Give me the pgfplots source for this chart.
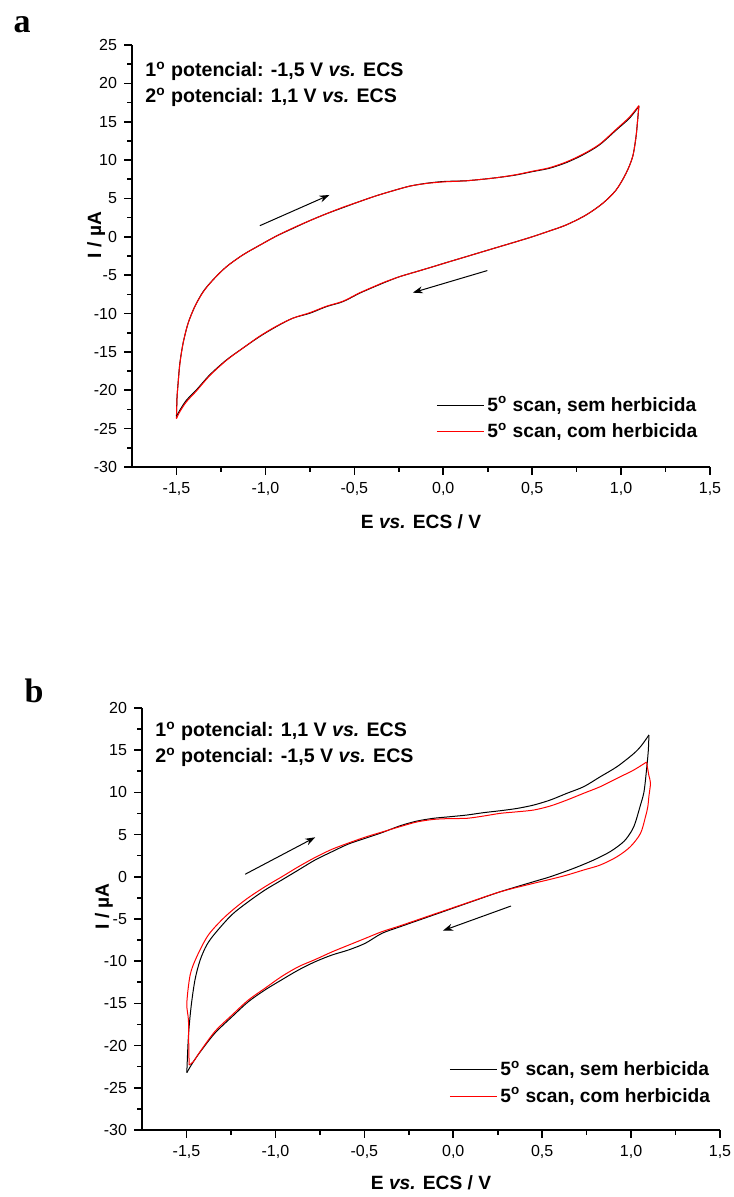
\documentclass[border=0pt]{standalone}
\usepackage{pgfplots}
\pgfplotsset{compat=1.18}
\usepackage{fontspec}
\setmainfont{Liberation Sans}
\newfontfamily\serifbold{Liberation Serif}
\usetikzlibrary{arrows.meta}

% ---------- data (E / V, I / uA) ----------
% panel a, black: anodic (upper) and cathodic (lower) branches
\pgfplotstableread{
E I
-1.500 -23.4
-1.497 -21.0
-1.491 -19.1
-1.481 -16.5
-1.463 -13.9
-1.435 -11.3
-1.397 -9.1
-1.350 -7.15
-1.294 -5.6
-1.219 -3.9
-1.126 -2.35
-1.032 -1.1
-0.938 0.1
-0.845 1.1
-0.751 2.1
-0.657 3.0
-0.564 3.8
-0.470 4.6
-0.376 5.35
-0.283 6.0
-0.189 6.6
-0.096 6.97
-0.002 7.2
0.092 7.27
0.129 7.3
0.222 7.5
0.316 7.75
0.410 8.06
0.503 8.5
0.597 8.93
0.691 9.66
0.784 10.66
0.878 11.97
0.972 13.9
1.047 15.45
1.100 17.0
}\dataAblackU
\pgfplotstableread{
E I
1.100 17.0
1.093 15.2
1.084 13.05
1.065 10.44
1.028 8.28
0.972 6.1
0.897 4.37
0.803 2.84
0.691 1.54
0.597 0.76
0.503 0.02
0.410 -0.64
0.316 -1.29
0.222 -1.94
0.129 -2.59
0.035 -3.24
-0.058 -3.9
-0.152 -4.55
-0.246 -5.2
-0.330 -5.95
-0.376 -6.4
-0.470 -7.35
-0.564 -8.45
-0.657 -9.1
-0.751 -9.97
-0.845 -10.6
-0.938 -11.7
-1.032 -13.0
-1.126 -14.5
-1.219 -16.05
-1.313 -18.0
-1.388 -19.96
-1.444 -21.3
-1.481 -22.6
-1.500 -23.4
}\dataAblackL

% panel a, red
\pgfplotstableread{
E I
-1.500 -23.7
-1.497 -21.1
-1.491 -19.2
-1.481 -16.6
-1.463 -13.9
-1.435 -11.3
-1.397 -9.1
-1.350 -7.2
-1.294 -5.6
-1.219 -3.9
-1.126 -2.35
-1.032 -1.1
-0.938 0.1
-0.845 1.15
-0.751 2.1
-0.657 3.0
-0.564 3.85
-0.470 4.6
-0.376 5.35
-0.283 6.0
-0.189 6.6
-0.096 6.95
-0.002 7.15
0.092 7.25
0.129 7.3
0.222 7.5
0.316 7.75
0.410 8.1
0.503 8.55
0.597 9.0
0.691 9.75
0.784 10.75
0.878 12.05
0.972 14.0
1.047 15.6
1.100 17.1
}\dataAredU
\pgfplotstableread{
E I
1.100 17.1
1.093 15.2
1.084 13.05
1.065 10.44
1.028 8.28
0.972 6.1
0.897 4.37
0.803 2.84
0.691 1.54
0.597 0.76
0.503 0.02
0.410 -0.64
0.316 -1.29
0.222 -1.94
0.129 -2.59
0.035 -3.24
-0.058 -3.9
-0.152 -4.55
-0.246 -5.2
-0.330 -5.9
-0.376 -6.35
-0.470 -7.3
-0.564 -8.4
-0.657 -9.05
-0.751 -9.9
-0.845 -10.6
-0.938 -11.65
-1.032 -12.95
-1.126 -14.5
-1.219 -16.1
-1.313 -18.1
-1.388 -20.1
-1.444 -21.5
-1.481 -22.8
-1.500 -23.7
}\dataAredL

% panel b, black
\pgfplotstableread{
E I
1.100 16.8
1.097 15.0
1.085 12.3
1.072 10.0
1.050 8.3
1.025 6.5
1.005 5.5
0.960 4.2
0.884 3.0
0.790 1.99
0.677 1.0
0.546 0.01
0.452 -0.58
0.265 -1.77
0.077 -3.14
-0.111 -4.53
-0.298 -5.91
-0.401 -6.7
-0.495 -7.88
-0.589 -8.67
-0.682 -9.27
-0.776 -10.06
-0.870 -11.04
-0.964 -12.2
-1.058 -13.4
-1.152 -14.8
-1.245 -16.6
-1.339 -18.5
-1.414 -20.5
-1.461 -21.9
-1.498 -23.2
}\dataBblackL
\pgfplotstableread{
E I
-1.498 -23.2
-1.489 -18.9
-1.474 -15.4
-1.452 -12.2
-1.423 -9.86
-1.386 -8.08
-1.339 -6.7
-1.245 -4.5
-1.152 -2.95
-1.058 -1.56
-0.964 -0.38
-0.870 0.81
-0.776 2.0
-0.682 2.97
-0.589 3.89
-0.495 4.56
-0.401 5.23
-0.298 6.05
-0.204 6.6
-0.111 6.93
-0.017 7.12
0.077 7.32
0.171 7.6
0.265 7.83
0.359 8.1
0.452 8.5
0.546 9.1
0.640 9.9
0.734 10.68
0.827 11.86
0.921 13.05
1.015 14.6
1.060 15.6
1.100 16.8
}\dataBblackU

% panel b, red
\pgfplotstableread{
E I
1.087 13.6
1.100 12.0
1.109 11.1
1.100 9.5
1.094 8.3
1.081 7.12
1.053 5.15
0.996 3.57
0.921 2.38
0.827 1.4
0.734 0.81
0.640 0.21
0.546 -0.3
0.452 -0.77
0.265 -1.77
0.077 -3.10
-0.111 -4.45
-0.298 -5.80
-0.401 -6.5
-0.495 -7.3
-0.589 -8.1
-0.682 -8.9
-0.776 -9.8
-0.870 -10.65
-0.964 -11.8
-1.058 -13.2
-1.152 -14.6
-1.245 -16.4
-1.339 -18.3
-1.423 -20.7
-1.461 -21.9
-1.485 -22.3
}\dataBredL
\pgfplotstableread{
E I
-1.485 -22.3
-1.487 -20.0
-1.489 -16.97
-1.498 -15.0
-1.479 -11.6
-1.442 -9.47
-1.377 -6.9
-1.283 -4.73
-1.170 -2.75
-1.058 -1.17
-0.964 0.0
-0.870 1.2
-0.776 2.3
-0.682 3.26
-0.589 4.0
-0.495 4.7
-0.401 5.3
-0.298 5.95
-0.204 6.5
-0.111 6.8
-0.017 6.9
0.077 6.93
0.171 7.2
0.265 7.52
0.359 7.7
0.452 7.91
0.546 8.39
0.640 9.1
0.734 9.9
0.827 10.68
0.921 11.67
1.015 12.65
1.087 13.6
}\dataBredU

\pgfplotsset{
  cvaxis/.style={
    scale only axis,
    width=289pt, height=211pt,
    xmin=-1.75, xmax=1.5,
    axis lines=left,
    axis line style={-, line width=0.9pt},
    tick align=outside,
    major tick length=4pt,
    minor tick length=2.3pt,
    every tick/.style={black, line width=0.8pt},
    xtick={-1.5,-1,-0.5,0,0.5,1,1.5},
    xticklabels={{-1,5},{-1,0},{-0,5},{0,0},{0,5},{1,0},{1,5}},
    minor x tick num=1,
    minor y tick num=1,
    tick label style={font=\fontsize{8}{9}\selectfont},
    xlabel={\textbf{E \textit{vs.} ECS / V}},
    ylabel={\textbf{I / µA}},
    label style={font=\fontsize{9.6}{11}\selectfont},
    legend cell align=left,
    legend image code/.code={\draw[#1] (0pt,0pt) -- (23.5pt,0pt);},
  },
  cvline/.style={line width=0.5pt, smooth, tension=0.5},
}

\begin{document}
\begin{tikzpicture}
\useasboundingbox (0,0) rectangle (366.5pt,598.5pt);

% ---------------- panel a ----------------
\begin{axis}[cvaxis,
  at={(66pt,365pt)}, anchor=south west,
  ymin=-30, ymax=25,
  ytick={-30,-25,...,25},
  yticklabels={-30,-25,-20,-15,-10,-5,0,5,10,15,20,25},
  xlabel style={at={(axis description cs:0.5,-0.13)}, anchor=center},
  ylabel style={at={(axis description cs:-0.062,0.55)}, anchor=center},
  legend style={draw=none, fill=none, at={(axis description cs:0.526,0.175)}, anchor=north west,
    font=\fontsize{9.6}{11}\selectfont\bfseries, row sep=1.5pt, inner sep=0pt,
    nodes={inner sep=1.5pt}},
]
\addplot[black, cvline] table {\dataAblackU};
\addplot[red, cvline] table {\dataAredU};
\addplot[black, cvline, forget plot] table {\dataAblackL};
\addplot[red, cvline, forget plot] table {\dataAredL};
\legend{{5\textsuperscript{o} scan, sem herbicida}, {5\textsuperscript{o} scan, com herbicida}}
\draw[-{Stealth[length=5pt,width=3.5pt]}, line width=0.5pt] (axis cs:-1.031,1.45) -- (axis cs:-0.64,5.45);
\draw[-{Stealth[length=5pt,width=3.5pt]}, line width=0.5pt] (axis cs:0.248,-4.4) -- (axis cs:-0.171,-7.28);
\end{axis}

% ---------------- panel b ----------------
\begin{axis}[cvaxis,
  at={(71pt,33.5pt)}, anchor=south west,
  ymin=-30, ymax=20,
  ytick={-30,-25,...,20},
  yticklabels={-30,-25,-20,-15,-10,-5,0,5,10,15,20},
  xlabel style={at={(axis description cs:0.5,-0.126)}, anchor=center},
  ylabel style={at={(axis description cs:-0.066,0.53)}, anchor=center},
  legend style={draw=none, fill=none, at={(axis description cs:0.531,0.171)}, anchor=north west,
    font=\fontsize{9.6}{11}\selectfont\bfseries, row sep=1.5pt, inner sep=0pt,
    nodes={inner sep=1.5pt}},
]
\addplot[black, cvline] table {\dataBblackL};
\addplot[red, cvline] table {\dataBredL};
\addplot[black, cvline, forget plot] table {\dataBblackU};
\addplot[red, cvline, forget plot] table {\dataBredU};
\legend{{5\textsuperscript{o} scan, sem herbicida}, {5\textsuperscript{o} scan, com herbicida}}
\draw[-{Stealth[length=5pt,width=3.5pt]}, line width=0.5pt] (axis cs:-1.170,0.3) -- (axis cs:-0.776,4.68);
\draw[-{Stealth[length=5pt,width=3.5pt]}, line width=0.5pt] (axis cs:0.325,-3.46) -- (axis cs:-0.058,-6.38);
\end{axis}

% panel letters
\node[anchor=base, font=\serifbold\bfseries\fontsize{17}{20}\selectfont, inner sep=0pt] at (11pt,582pt) {a};
\node[anchor=base, font=\serifbold\bfseries\fontsize{17}{20}\selectfont, inner sep=0pt] at (17pt,247pt) {b};

% annotations
\node[anchor=base west, inner sep=0pt, font=\fontsize{9.8}{11}\selectfont\bfseries] at (72.5pt,560pt) {1\textsuperscript{o} potencial: -1,5 V \textit{vs.} ECS};
\node[anchor=base west, inner sep=0pt, font=\fontsize{9.8}{11}\selectfont\bfseries] at (72.5pt,547pt) {2\textsuperscript{o} potencial: 1,1 V \textit{vs.} ECS};
\node[anchor=base west, inner sep=0pt, font=\fontsize{9.8}{11}\selectfont\bfseries] at (77.5pt,230pt) {1\textsuperscript{o} potencial: 1,1 V \textit{vs.} ECS};
\node[anchor=base west, inner sep=0pt, font=\fontsize{9.8}{11}\selectfont\bfseries] at (77.5pt,217pt) {2\textsuperscript{o} potencial: -1,5 V \textit{vs.} ECS};
\end{tikzpicture}
\end{document}
